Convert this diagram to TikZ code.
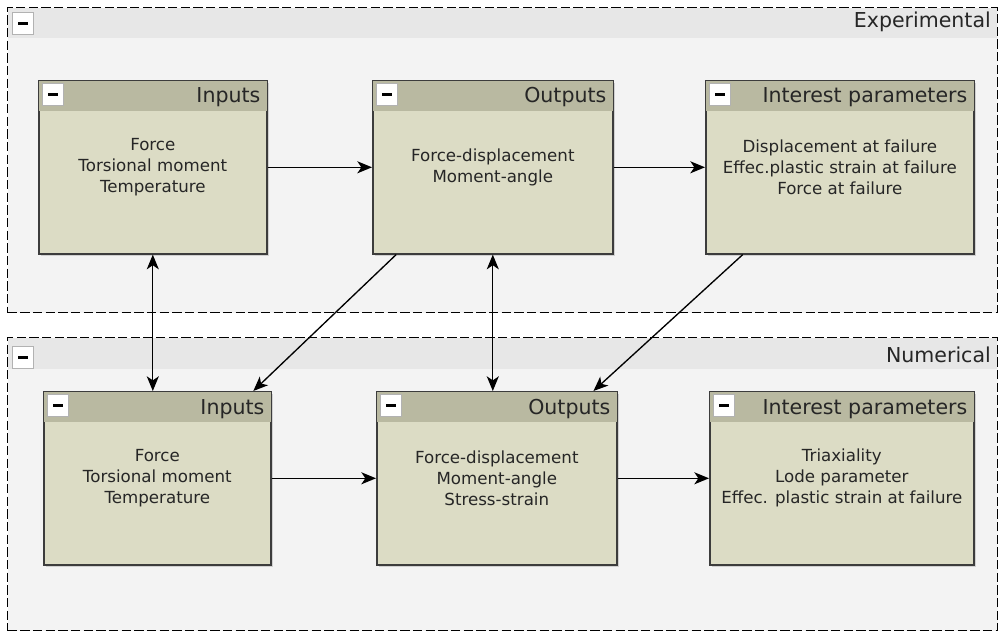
\documentclass[tikz,border=0pt]{standalone}
\usepackage{fontspec}
\setmainfont{DejaVu Sans}
\usepackage{tikz}
\usetikzlibrary{arrows.meta,calc,shadows}
\definecolor{cBody}{HTML}{DCDCC5}
\definecolor{cHead}{HTML}{B9B9A1}
\definecolor{cGrp}{HTML}{F3F3F3}
\definecolor{cBar}{HTML}{E7E7E7}
\definecolor{cEdge}{HTML}{3C3C3C}
\definecolor{cInk}{HTML}{262626}
\newcommand{\bodyfont}{\fontsize{12.5}{15.75}\selectfont}
\newcommand{\headfont}{\fontsize{15.4}{18}\selectfont}
\tikzset{
  grp/.style={draw=black,fill=cGrp,dash pattern=on 7pt off 2.5pt,line width=0.8pt,inner sep=0pt},
  pbox/.style={draw=cEdge,fill=cBody,line width=1.2pt,inner sep=0pt,minimum height=173*0.75pt,align=center,text=cInk,font=\bodyfont,
    drop shadow={shadow xshift=1.8pt,shadow yshift=-1.8pt,opacity=0.3}},
  mbtn/.style={draw=gray!60,fill=white,line width=0.6pt,minimum width=16pt,minimum height=16.5pt,inner sep=0pt,
    path picture={\fill[black] ($(path picture bounding box.center)+(-4pt,-1.1pt)$) rectangle ++(8pt,2.2pt);}},
  ttl/.style={font=\headfont,text=cInk,inner sep=0pt},
  arr/.style={-{Stealth[length=11pt,width=9pt,inset=3pt]},line width=1pt,black},
  darr/.style={{Stealth[length=11pt,width=9pt,inset=3pt]}-{Stealth[length=11pt,width=9pt,inset=3pt]},line width=1pt,black},
}

\begin{document}
\begin{tikzpicture}[x=0.75pt,y=-0.75pt]
  \fill[white] (0,0) rectangle (1000,631);
  \useasboundingbox (0,0) rectangle (1000,631);

  % the two dashed groups with their title bars
  \foreach \n/\y/\h/\bh/\b/\t in {gExp/7/305/31/21/Experimental, gNum/337/293/32/25/Numerical}{
    \node[grp,anchor=north west,minimum width=990*0.75pt,minimum height=\h*0.75pt] (\n) at (7,\y) {};
    \fill[cBar] ([shift={(1,1)}]\n.north west) rectangle ([shift={(-1,\bh)}]\n.north east);
    \node[mbtn,anchor=north west] (\n-m) at ([shift={(5,\b-16)}]\n.north west) {};
    \node[ttl,anchor=base east] (\n-t) at ([shift={(-7,\b)}]\n.north east) {\t};
  }

  % panels: name/x/y/width/title/lines
  \foreach \n/\x/\y/\w/\t/\l in {
    eIn/38/80/228/Inputs/{Force\\Torsional moment\\Temperature},
    eOut/372/80/240/Outputs/{Force-displacement\\Moment-angle},
    eInt/705/80/268/Interest parameters/{Displacement at failure\\Effec.plastic strain at failure\\Force at failure},
    nIn/43/391/227/Inputs/{Force\\Torsional moment\\Temperature},
    nOut/376/391/240/Outputs/{Force-displacement\\Moment-angle\\Stress-strain},
    nInt/709/391/264/Interest parameters/{Triaxiality\\Lode parameter\\Effec. plastic strain at failure}}{
    \node[pbox,anchor=north west,minimum width=\w*0.75pt] (\n) at (\x,\y) {\l};
    \fill[cHead] ([shift={(0.9,0.9)}]\n.north west) rectangle ([shift={(-0.9,31)}]\n.north east);
    \node[mbtn,anchor=north west] (\n-m) at ([shift={(4,3)}]\n.north west) {};
    \node[ttl,anchor=base east] (\n-t) at ([shift={(-7,23)}]\n.north east) {\t};
  }

  % flow inside each group
  \draw[arr] (eIn) -- (eOut);
  \draw[arr] (eOut) -- (eInt);
  \draw[arr] (nIn) -- (nOut);
  \draw[arr] (nOut) -- (nInt);

  % links between the groups
  \draw[darr] (eIn.south) -- (eIn.south |- nIn.north);
  \draw[darr] (eOut.south) -- (eOut.south |- nOut.north);
  \draw[arr] ($(eOut.south west)!0.1!(eOut.south east)$) -- ($(nIn.north west)!0.92!(nIn.north east)$);
  \draw[arr] ($(eInt.south west)!0.14!(eInt.south east)$) -- ($(nOut.north west)!0.9!(nOut.north east)$);
\end{tikzpicture}
\end{document}
